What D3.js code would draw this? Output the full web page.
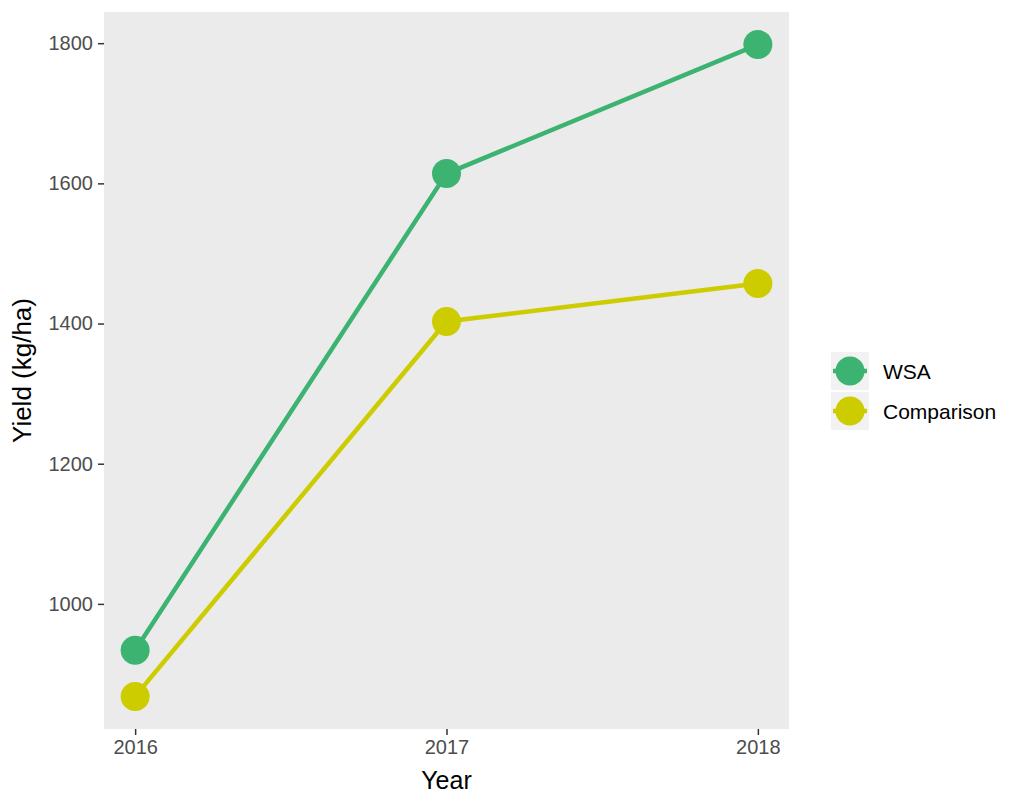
<!DOCTYPE html>
<html>
<head>
<meta charset="utf-8">
<script src="https://cdn.jsdelivr.net/npm/d3@7"></script>
<style>
  body { margin: 0; background: #fff; }
  text { font-family: "Liberation Sans", Arial, sans-serif; }
</style>
</head>
<body>
<div id="chart"></div>
<script>
var years = [2016, 2017, 2018];
var seriesNames = ["WSA", "Comparison"];
var wsaYield = [934, 1614, 1798];
var comparisonYield = [868, 1403, 1457];
var yTicks = [1000, 1200, 1400, 1600, 1800];
var colors = ["#3CB371", "#CCCC00"];

var W = 1024, H = 809,
    margin = [12, 235, 80, 104], // top, right, bottom, left
    width = W - margin[3] - margin[1],
    height = H - margin[0] - margin[2];

var series = seriesNames.map(function(name, i) {
  var vals = i == 0 ? wsaYield : comparisonYield;
  return { name: name, color: colors[i], values: years.map(function(y, j) { return { year: y, value: vals[j] }; }) };
});

// ggplot-style 5% expansion
var allVals = wsaYield.concat(comparisonYield),
    ext = d3.extent(allVals),
    pad = (ext[1] - ext[0]) * 0.05;

var x = d3.scaleLinear().domain([2016 - 0.1, 2018 + 0.1]).range([0, width]);
var y = d3.scaleLinear().domain([ext[0] - pad, ext[1] + pad]).range([height, 0]);

var svg = d3.select("#chart").append("svg")
    .attr("width", W)
    .attr("height", H);

var g = svg.append("g")
    .attr("transform", "translate(" + margin[3] + "," + margin[0] + ")");

g.append("rect")
  .attr("width", width)
  .attr("height", height)
  .attr("fill", "#EBEBEB");

// axes
var yAxis = g.append("g")
  .call(d3.axisLeft(y).tickValues(yTicks).tickSize(6).tickPadding(5).tickFormat(d3.format("d")));
var xAxis = g.append("g")
  .attr("transform", "translate(0," + height + ")")
  .call(d3.axisBottom(x).tickValues(years).tickSize(6).tickPadding(5).tickFormat(d3.format("d")));

[yAxis, xAxis].forEach(function(a) {
  a.select(".domain").remove();
  a.selectAll(".tick line").attr("stroke", "#333").attr("stroke-width", 1.5);
  a.selectAll(".tick text")
    .attr("fill", "#4D4D4D")
    .style("font-size", "20px")
    .style("font-family", "'Liberation Sans', Arial, sans-serif");
});

var line = d3.line()
  .x(function(d) { return x(d.year); })
  .y(function(d) { return y(d.value); });

var sg = g.selectAll(".series")
  .data(series)
  .enter().append("g")
    .attr("class", "series");

sg.append("path")
  .attr("d", function(d) { return line(d.values); })
  .attr("fill", "none")
  .attr("stroke", function(d) { return d.color; })
  .attr("stroke-width", 4.5);

sg.selectAll("circle")
  .data(function(d) { return d.values.map(function(v) { return { v: v, color: d.color }; }); })
  .enter().append("circle")
    .attr("cx", function(d) { return x(d.v.year); })
    .attr("cy", function(d) { return y(d.v.value); })
    .attr("r", 14.5)
    .attr("fill", function(d) { return d.color; });

// axis titles
svg.append("text")
  .attr("x", margin[3] + width / 2)
  .attr("y", 789)
  .attr("text-anchor", "middle")
  .style("font-size", "25px")
  .attr("fill", "#000")
  .text("Year");

svg.append("text")
  .attr("transform", "translate(31," + (margin[0] + height / 2) + ") rotate(-90)")
  .attr("text-anchor", "middle")
  .style("font-size", "26px")
  .attr("fill", "#000")
  .text("Yield (kg/ha)");

// legend
var legend = svg.append("g")
  .attr("transform", "translate(831,352)");

var keys = legend.selectAll(".key")
  .data(series)
  .enter().append("g")
    .attr("class", "key")
    .attr("transform", function(d, i) { return "translate(0," + (i * 40) + ")"; });

keys.append("rect")
  .attr("width", 38)
  .attr("height", 38)
  .attr("fill", "#F2F2F2");

keys.append("line")
  .attr("x1", 2).attr("x2", 36)
  .attr("y1", 19).attr("y2", 19)
  .attr("stroke", function(d) { return d.color; })
  .attr("stroke-width", 4.5);

keys.append("circle")
  .attr("cx", 19).attr("cy", 19)
  .attr("r", 14.5)
  .attr("fill", function(d) { return d.color; });

keys.append("text")
  .attr("x", 52)
  .attr("y", 20)
  .attr("dy", "0.35em")
  .style("font-size", "21px")
  .attr("fill", "#000")
  .text(function(d) { return d.name; });
</script>
</body>
</html>
